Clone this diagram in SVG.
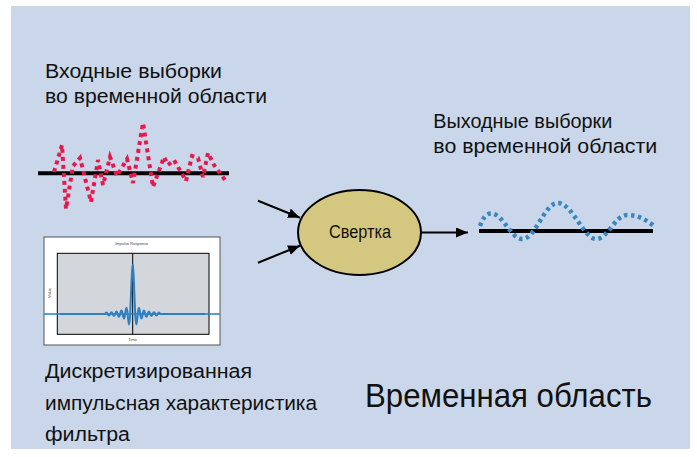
<svg xmlns="http://www.w3.org/2000/svg" width="697" height="457" viewBox="0 0 697 457">
<defs>
<style>
.lbl{font-family:"Liberation Sans Narrow","Liberation Sans",Arial,sans-serif;font-size:20px;fill:#111}
.big{font-family:"Liberation Sans Narrow","Liberation Sans",Arial,sans-serif;font-size:34px;fill:#111}
.node{font-family:"Liberation Sans Narrow","Liberation Sans",Arial,sans-serif;font-size:18.5px;fill:#111}
.tiny{font-family:"Liberation Sans",Arial,sans-serif;font-size:4px;fill:#444}
.conn{stroke:#000;stroke-width:2;fill:none}
.axis{stroke:#000;stroke-width:1;fill:none}
</style>
<marker id="ah" viewBox="0 0 12 10" refX="12" refY="5" markerWidth="12" markerHeight="10" markerUnits="userSpaceOnUse" orient="auto">
<path d="M0,0 L12,5 L0,10 z" fill="#000"/>
</marker>
</defs>
<rect x="0" y="0" width="697" height="457" fill="#ffffff"/>
<rect x="11" y="6" width="679" height="443" fill="#cad7ea"/>

<g id="input-label">
<text class="lbl" x="45" y="78.3" textLength="177" lengthAdjust="spacingAndGlyphs">Входные выборки</text>
<text class="lbl" x="45" y="103.3" textLength="222" lengthAdjust="spacingAndGlyphs">во временной области</text>
</g>

<g id="input-signal">
<line x1="38" y1="173.3" x2="229" y2="173.3" stroke="#000" stroke-width="4"/>
<polyline fill="none" stroke="#e8194a" stroke-width="4" stroke-dasharray="4 4" points="54,172 62,145 66,209 73,166 80,158 91,202 98,160 103,185 110,157 117,176 127,159 133,183 143,123 153,187 164,157 168,165 174,160 186,181 192,156 198,158 203,177 208,153 214,165 225,180"/>
</g>

<g id="impulse-chart">
<rect x="44" y="237" width="176" height="108" fill="#ffffff" stroke="#555" stroke-width="1"/>
<rect x="57.3" y="253.3" width="151.7" height="81" fill="#d3d7db" stroke="#000" stroke-width="1"/>
<line class="axis" x1="132.7" y1="253.3" x2="132.7" y2="334.3"/>
<text class="tiny" x="131.7" y="245" text-anchor="middle">Impulse Response</text>
<text class="tiny" x="0" y="0" text-anchor="middle" transform="translate(51,293) rotate(-90)">Value</text>
<text class="tiny" x="132.7" y="341" text-anchor="middle">Time</text>
<line x1="44" y1="314" x2="220" y2="314" stroke="#2a7fc1" stroke-width="1.3"/>
<path fill="none" stroke="#2f80c2" stroke-width="2" stroke-linejoin="round" d="M60,314 L105.2,314 Q106.45,311.2 107.7,314 Q108.95,317.2 110.2,314 Q111.45,310.4 112.7,314 Q113.95,318.2 115.2,314 Q116.45,309.2 117.7,314 Q118.95,319.6 120.2,314 Q121.45,307 122.7,314 Q123.95,323 125.2,314 Q126.45,301.4 127.7,314 Q129.1,335.2 130.2,314 L130.8,299.3 L131.45,282.8 L132.1,269.9 L132.7,265 L133.3,269.9 L133.95,282.8 L134.6,299.3 L135.2,314 Q136.3,335.2 137.7,314 Q138.95,301.4 140.2,314 Q141.45,323 142.7,314 Q143.95,307 145.2,314 Q146.45,319.6 147.7,314 Q148.95,309.2 150.2,314 Q151.45,318.2 152.7,314 Q153.95,310.4 155.2,314 Q156.45,317.2 157.7,314 Q158.95,311.2 160.2,314 L205,314"/>
</g>

<g id="impulse-label">
<text class="lbl" x="45" y="378.3" textLength="207" lengthAdjust="spacingAndGlyphs">Дискретизированная</text>
<text class="lbl" x="45" y="410" textLength="272" lengthAdjust="spacingAndGlyphs">импульсная характеристика</text>
<text class="lbl" x="45" y="440.7" textLength="85" lengthAdjust="spacingAndGlyphs">фильтра</text>
</g>

<g id="convolution">
<ellipse cx="359.5" cy="232.5" rx="61.5" ry="42.5" fill="#d4c780" stroke="#000" stroke-width="2"/>
<text class="node" x="329" y="238.3" textLength="62" lengthAdjust="spacingAndGlyphs">Свертка</text>
</g>

<g id="output-label">
<text class="lbl" x="433.3" y="128.3" textLength="179" lengthAdjust="spacingAndGlyphs">Выходные выборки</text>
<text class="lbl" x="433.3" y="153.3" textLength="224" lengthAdjust="spacingAndGlyphs">во временной области</text>
</g>

<g id="output-signal">
<line x1="479" y1="231" x2="653" y2="231" stroke="#000" stroke-width="4"/>
<path fill="none" stroke="#3a87c0" stroke-width="4.5" stroke-dasharray="3.5 3.5" d="M480,226 C483,218 486,213.5 491,213.5 C503,213.5 511,239 522,239 C536,239 544,203 558,203 C572,203 584,239 596,239 C608,239 615,215 627,215 C639,215 648,221 655,227"/>
</g>

<g id="title">
<text class="big" x="365" y="407.3" textLength="287" lengthAdjust="spacingAndGlyphs">Временная область</text>
</g>

<g id="connectors">
<line class="conn" x1="258" y1="200.7" x2="300" y2="217.7" marker-end="url(#ah)"/>
<line class="conn" x1="258" y1="262.7" x2="300" y2="245.7" marker-end="url(#ah)"/>
<line class="conn" x1="421" y1="232.5" x2="468" y2="232.5" marker-end="url(#ah)"/>
</g>
</svg>
